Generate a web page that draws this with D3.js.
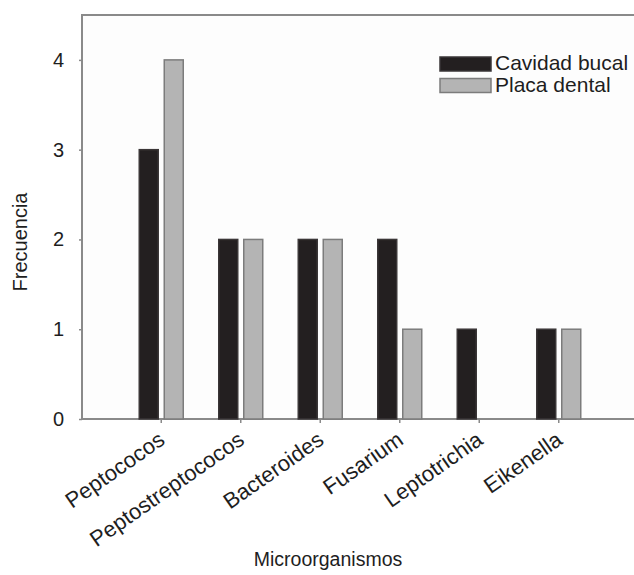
<!DOCTYPE html>
<html>
<head>
<meta charset="utf-8">
<script src="https://cdn.jsdelivr.net/npm/d3@7"></script>
<style>
  html, body { margin: 0; padding: 0; background: #fff; }
  svg { display: block; }
  text { font-family: "Liberation Sans", Arial, sans-serif; fill: #1e1e1e; }
</style>
</head>
<body>
<svg id="chart" width="634" height="575"></svg>
<script>
const categories = ["Peptococos", "Peptostreptococos", "Bacteroides", "Fusarium", "Leptotrichia", "Eikenella"];
const seriesNames = ["Cavidad bucal", "Placa dental"];
const cavidadBucal = [3, 2, 2, 2, 1, 1];
const placaDental = [4, 2, 2, 1, 0, 1];
const yTicks = [0, 1, 2, 3, 4];
const seriesValues = [cavidadBucal, placaDental];

const svg = d3.select("#chart");
const plot = { left: 82, top: 15, bottom: 419, right: 640 };

const fills = ["#231f20", "#b4b4b4"];
const strokes = ["#3a3637", "#7c7c7c"];

const y = d3.scaleLinear().domain([0, 4.5]).range([plot.bottom, plot.top]);
const x = d3.scaleBand().domain(categories).range([121.5, 598.5]).padding(0);
const x1 = d3.scaleBand().domain(seriesNames).range([-22, 22]).paddingInner(0.24);

// plot frame
svg.append("rect").attr("x", plot.left).attr("y", plot.top)
  .attr("width", plot.right - plot.left).attr("height", plot.bottom - plot.top)
  .attr("fill", "#fdfdfd").attr("stroke", "#8a8a8a").attr("stroke-width", 2);

// bars
const groups = svg.append("g").selectAll("g").data(categories).join("g")
  .attr("transform", d => `translate(${x(d) + x.bandwidth() / 2},0)`);
groups.selectAll("rect")
  .data((d, i) => seriesNames.map((s, j) => ({ s, j, v: seriesValues[j][i] })).filter(e => e.v > 0))
  .join("rect")
  .attr("x", e => x1(e.s))
  .attr("width", x1.bandwidth())
  .attr("y", e => y(e.v))
  .attr("height", e => y(0) - y(e.v))
  .attr("fill", e => fills[e.j])
  .attr("stroke", e => strokes[e.j])
  .attr("stroke-width", 1.5);

// y axis
const yAxis = d3.axisLeft(y).tickValues(yTicks).tickSize(3).tickPadding(15).tickFormat(d3.format("d"));
const gy = svg.append("g").attr("transform", `translate(${plot.left},0)`).call(yAxis);
gy.select(".domain").remove();
gy.selectAll(".tick line").attr("stroke", "#8a8a8a").attr("stroke-width", 1.5);
gy.selectAll(".tick text").attr("font-size", 20).attr("fill", "#1e1e1e")
  .attr("font-family", "'Liberation Sans', Arial, sans-serif");

// x axis
const xAxis = d3.axisBottom(x).tickSize(4).tickPadding(6);
const gx = svg.append("g").attr("transform", `translate(0,${plot.bottom})`).call(xAxis);
gx.select(".domain").remove();
gx.selectAll(".tick line").attr("stroke", "#8a8a8a").attr("stroke-width", 1.5);
gx.selectAll(".tick text")
  .attr("font-size", 22).attr("fill", "#1e1e1e")
  .attr("font-family", "'Liberation Sans', Arial, sans-serif")
  .attr("text-anchor", "end")
  .attr("dy", 0)
  .attr("transform", "translate(5,24) rotate(-35)")
  .attr("y", 0).attr("x", 0);

// axis titles
svg.append("text").attr("x", 328).attr("y", 566).attr("text-anchor", "middle")
  .attr("font-size", 19.5).text("Microorganismos");
svg.append("text").attr("transform", "translate(27,242) rotate(-90)")
  .attr("text-anchor", "middle").attr("font-size", 20).text("Frecuencia");

// legend
const legend = svg.append("g");
seriesNames.forEach((s, j) => {
  const yy = 57 + j * 21.5;
  legend.append("rect").attr("x", 440).attr("y", yy).attr("width", 51).attr("height", 14)
    .attr("fill", fills[j]).attr("stroke", strokes[j]).attr("stroke-width", 1.5);
  legend.append("text").attr("x", 495).attr("y", yy + 6).attr("dy", "0.35em")
    .attr("font-size", 21).text(s);
});
</script>
</body>
</html>
